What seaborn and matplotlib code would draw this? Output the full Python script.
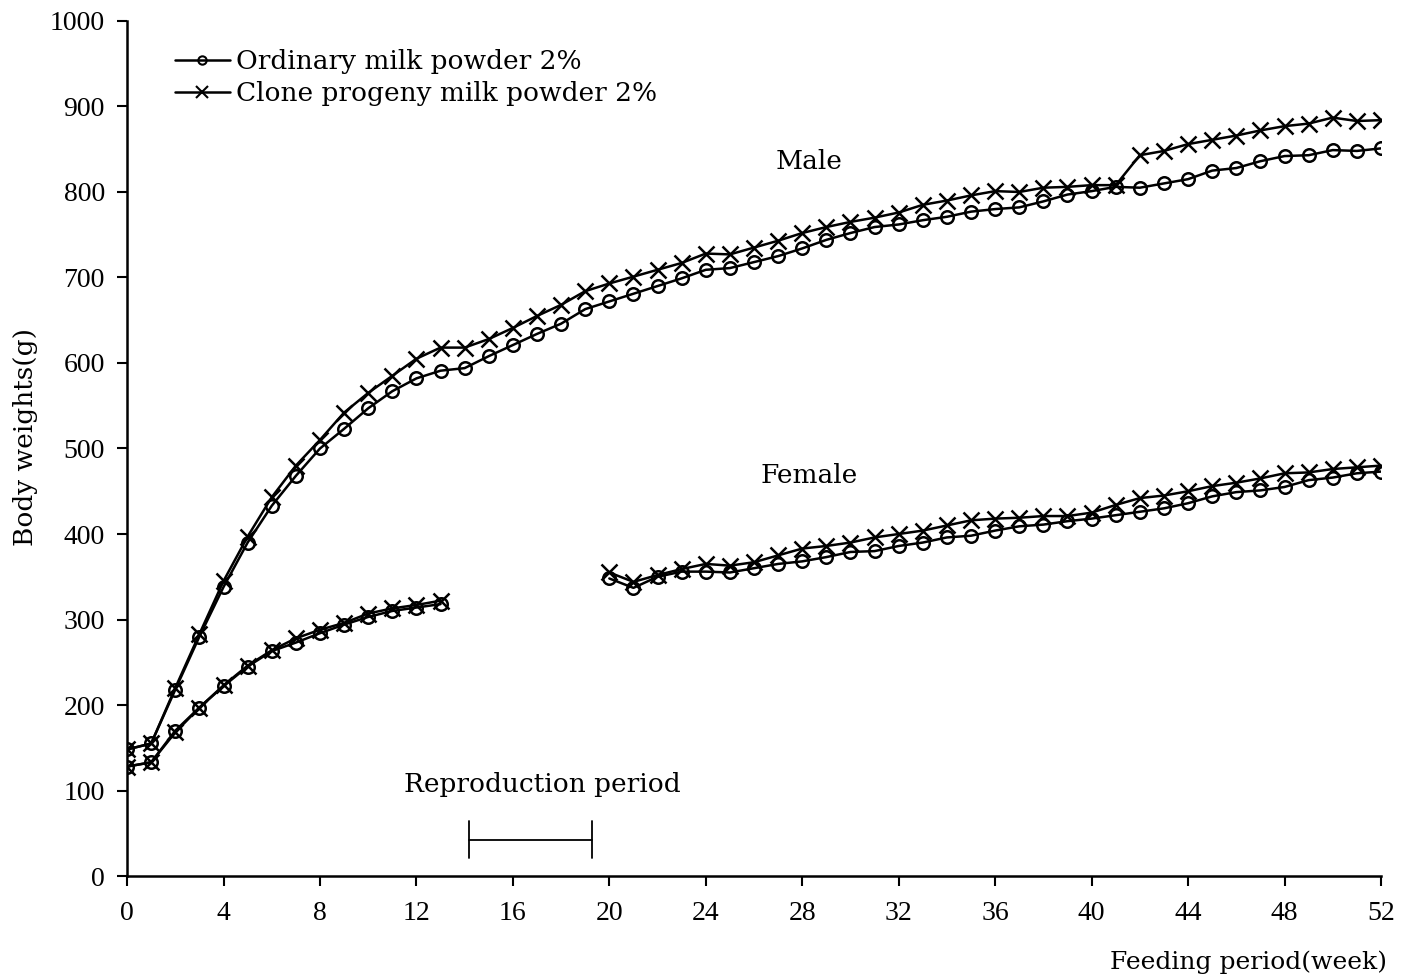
import matplotlib
matplotlib.use("Agg")

import matplotlib.pyplot as plt
from matplotlib.lines import Line2D
import seaborn as sns

# --- DATA ---

weeks_all = list(range(0, 53))
weeks_f1 = list(range(0, 14))
weeks_f2 = list(range(20, 53))

male_ordinary = [148, 155, 218, 280, 338, 390, 433, 468, 500, 523, 547, 567, 582, 591,
                 594, 608, 621, 634, 646, 663, 672, 681, 690, 699, 709, 711, 718, 725,
                 734, 744, 752, 759, 762, 767, 771, 777, 780, 782, 789, 797, 801, 806,
                 805, 810, 815, 825, 828, 836, 842, 843, 849, 848, 851]
male_clone = [148, 155, 220, 283, 345, 397, 443, 480, 510, 542, 565, 585, 605, 618,
              618, 628, 641, 655, 668, 684, 693, 701, 709, 717, 728, 727, 735, 743,
              752, 759, 765, 770, 776, 785, 790, 796, 801, 800, 805, 806, 808, 808,
              843, 848, 856, 861, 866, 872, 877, 880, 887, 883, 884]

female_ordinary_1 = [128, 133, 170, 197, 222, 245, 263, 273, 284, 294, 303, 310, 314, 318]
female_clone_1 = [128, 133, 168, 197, 223, 246, 264, 278, 288, 296, 307, 313, 317, 322]
female_ordinary_2 = [348, 337, 350, 356, 356, 355, 360, 365, 368, 373, 379, 380, 386, 390,
                     396, 398, 404, 409, 411, 415, 418, 422, 426, 430, 436, 444, 449, 451,
                     455, 463, 466, 471, 473]
female_clone_2 = [355, 344, 352, 359, 365, 363, 367, 375, 383, 386, 390, 396, 400, 404,
                  410, 416, 418, 419, 421, 421, 425, 434, 442, 445, 450, 456, 460, 465,
                  471, 472, 476, 478, 480]

legend_labels = ["Ordinary milk powder 2%", "Clone progeny milk powder 2%"]
x_ticks = list(range(0, 53, 4))
y_ticks = list(range(0, 1001, 100))
repro_start, repro_end = 14.2, 19.3

# --- PLOT ---

sns.set_style("ticks")
plt.rcParams["font.family"] = ["DejaVu Serif"]
plt.rcParams["text.color"] = "black"
plt.rcParams["xtick.color"] = "black"
plt.rcParams["ytick.color"] = "black"
plt.rcParams["axes.edgecolor"] = "black"

FS = 19
TICK_FONT = ["Liberation Serif", "DejaVu Serif"]

fig = plt.figure(figsize=(14.04, 9.8), dpi=100)
ax = fig.add_axes([0.0905, 0.1061, 0.8931, 0.8725])

circle_kw = dict(marker="o", markersize=9, markerfacecolor="none",
                 markeredgecolor="black", markeredgewidth=1.8)
cross_kw = dict(marker="x", markersize=11, markeredgecolor="black",
                markeredgewidth=1.8)

series = [
    (weeks_all, male_clone, cross_kw),
    (weeks_all, male_ordinary, circle_kw),
    (weeks_f1, female_clone_1, cross_kw),
    (weeks_f1, female_ordinary_1, circle_kw),
    (weeks_f2, female_clone_2, cross_kw),
    (weeks_f2, female_ordinary_2, circle_kw),
]
for xs, ys, kw in series:
    sns.lineplot(x=xs, y=ys, ax=ax, color="black", linewidth=1.8, **kw)

# reproduction period bar
ax.plot([repro_start, repro_end], [42, 42], color="black", linewidth=1.3)
ax.plot([repro_start, repro_start], [21, 64], color="black", linewidth=1.3)
ax.plot([repro_end, repro_end], [21, 64], color="black", linewidth=1.3)
ax.text(17.2, 107, "Reproduction period", ha="center", va="center", fontsize=FS)

ax.text(28.3, 836, "Male", ha="center", va="center", fontsize=FS)
ax.text(28.3, 468, "Female", ha="center", va="center", fontsize=FS)

ax.set_xlim(0, 52)
ax.set_ylim(0, 1000)
ax.set_xticks(x_ticks)
ax.set_yticks(y_ticks)
ax.tick_params(labelsize=20, width=1.5, length=7, direction="out")
ax.tick_params(axis="x", pad=11)
ax.tick_params(axis="y", pad=9)
for lbl in ax.get_xticklabels() + ax.get_yticklabels():
    lbl.set_fontfamily(TICK_FONT)
for s in ["left", "bottom"]:
    ax.spines[s].set_linewidth(1.8)
sns.despine(ax=ax)

fig.text(0.018, 0.554, "Body weights(g)", rotation=90, ha="center", va="center", fontsize=FS)
fig.text(0.988, 0.018, "Feeding period(week)", ha="right", va="center", fontsize=18)

handles = [
    Line2D([], [], color="black", linewidth=1.8, marker="o", markersize=6,
           markerfacecolor="none", markeredgewidth=1.5),
    Line2D([], [], color="black", linewidth=1.8, marker="x", markersize=9,
           markeredgewidth=1.5),
]
ax.legend(handles, legend_labels, loc="upper left", bbox_to_anchor=(0.019, 0.995),
          frameon=False, fontsize=FS, handlelength=2.1, handletextpad=0.22,
          labelspacing=0.28)

fig.savefig("out.png", dpi=100)
